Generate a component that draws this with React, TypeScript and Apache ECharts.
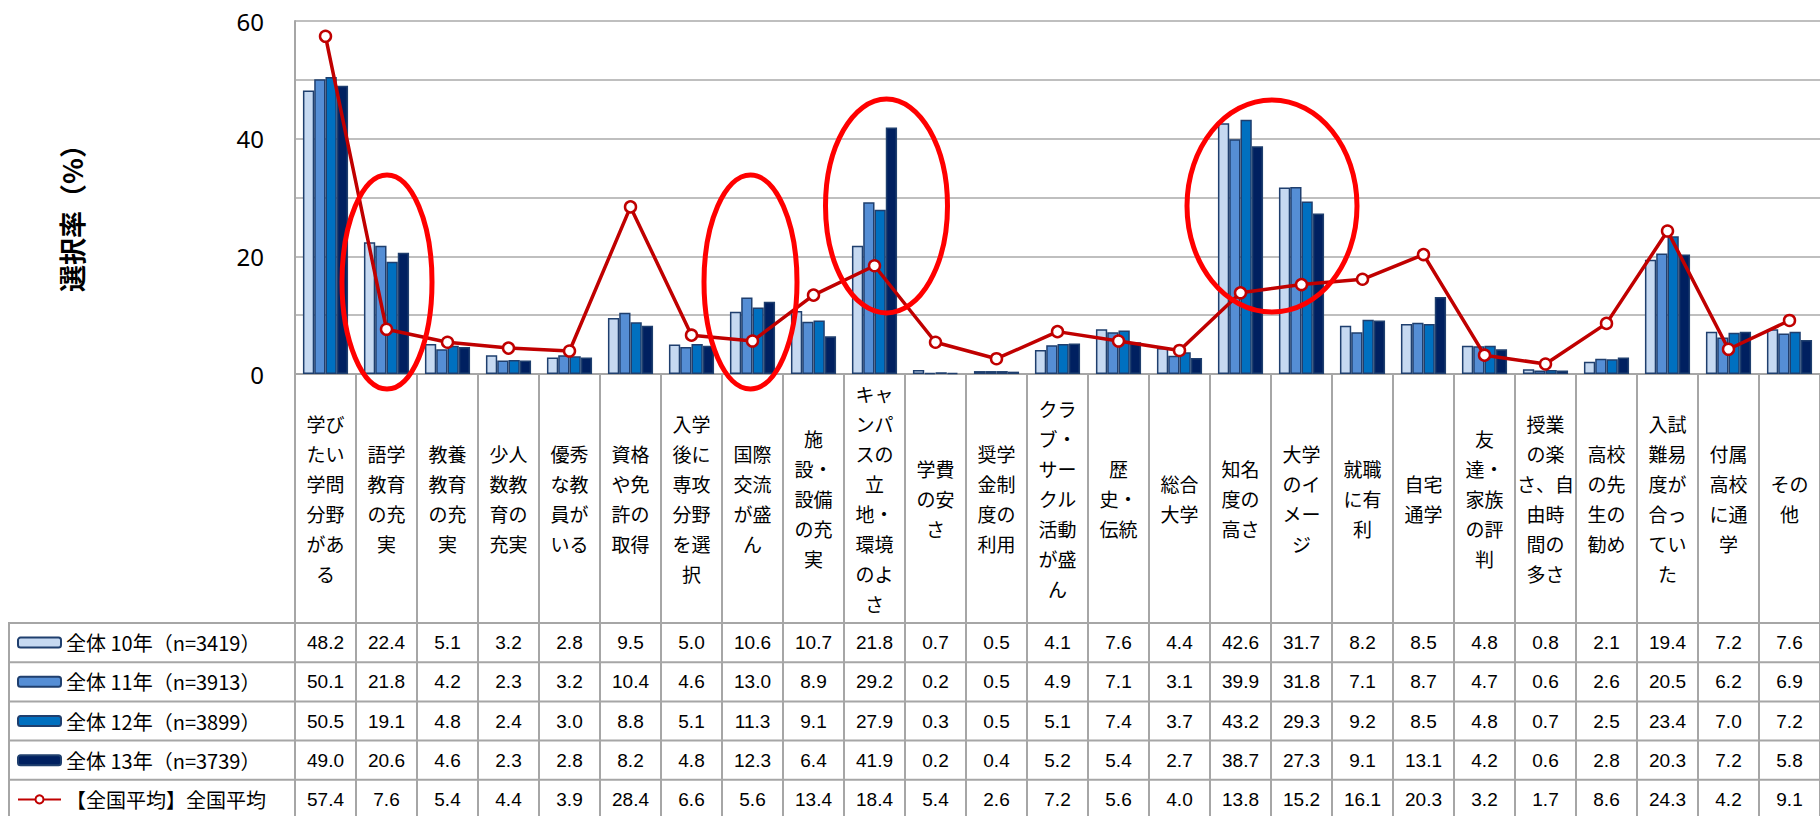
import React, { useEffect, useRef } from "react";
import * as echarts from "echarts";

const categories = [
  "学び\nたい\n学問\n分野\nがあ\nる",
  "語学\n教育\nの充\n実",
  "教養\n教育\nの充\n実",
  "少人\n数教\n育の\n充実",
  "優秀\nな教\n員が\nいる",
  "資格\nや免\n許の\n取得",
  "入学\n後に\n専攻\n分野\nを選\n択",
  "国際\n交流\nが盛\nん",
  "施\n設・\n設備\nの充\n実",
  "キャ\nンパ\nスの\n立\n地・\n環境\nのよ\nさ",
  "学費\nの安\nさ",
  "奨学\n金制\n度の\n利用",
  "クラ\nブ・\nサー\nクル\n活動\nが盛\nん",
  "歴\n史・\n伝統",
  "総合\n大学",
  "知名\n度の\n高さ",
  "大学\nのイ\nメー\nジ",
  "就職\nに有\n利",
  "自宅\n通学",
  "友\n達・\n家族\nの評\n判",
  "授業\nの楽\nさ、自\n由時\n間の\n多さ",
  "高校\nの先\n生の\n勧め",
  "入試\n難易\n度が\n合っ\nてい\nた",
  "付属\n高校\nに通\n学",
  "その\n他",
];

const seriesNames = [
  "全体 10年（n=3419）",
  "全体 11年（n=3913）",
  "全体 12年（n=3899）",
  "全体 13年（n=3739）",
  "【全国平均】全国平均",
];

const y10 = [48.2, 22.4, 5.1, 3.2, 2.8, 9.5, 5.0, 10.6, 10.7, 21.8, 0.7, 0.5, 4.1, 7.6, 4.4, 42.6, 31.7, 8.2, 8.5, 4.8, 0.8, 2.1, 19.4, 7.2, 7.6];
const y11 = [50.1, 21.8, 4.2, 2.3, 3.2, 10.4, 4.6, 13.0, 8.9, 29.2, 0.2, 0.5, 4.9, 7.1, 3.1, 39.9, 31.8, 7.1, 8.7, 4.7, 0.6, 2.6, 20.5, 6.2, 6.9];
const y12 = [50.5, 19.1, 4.8, 2.4, 3.0, 8.8, 5.1, 11.3, 9.1, 27.9, 0.3, 0.5, 5.1, 7.4, 3.7, 43.2, 29.3, 9.2, 8.5, 4.8, 0.7, 2.5, 23.4, 7.0, 7.2];
const y13 = [49.0, 20.6, 4.6, 2.3, 2.8, 8.2, 4.8, 12.3, 6.4, 41.9, 0.2, 0.4, 5.2, 5.4, 2.7, 38.7, 27.3, 9.1, 13.1, 4.2, 0.6, 2.8, 20.3, 7.2, 5.8];
const avg = [57.4, 7.6, 5.4, 4.4, 3.9, 28.4, 6.6, 5.6, 13.4, 18.4, 5.4, 2.6, 7.2, 5.6, 4.0, 13.8, 15.2, 16.1, 20.3, 3.2, 1.7, 8.6, 24.3, 4.2, 9.1];

const yTicks = [0, 20, 40, 60];

const barColors = ["#C6D9F1", "#558ED5", "#0070C0", "#002060"];

export default function App() {
  const ref = useRef<HTMLDivElement>(null);

  useEffect(() => {
    document.body.style.margin = "0";
    if (!ref.current) return;
    const chart = echarts.init(ref.current, null, { renderer: "svg" });

    const W = 1820;
    const H = 816;
    const gridLeft = 295;
    const gridTop = 21;
    const axisY = 374;
    const tableTop = 623;
    const rowH = 39.2;
    const gridColor = "#A6A6A6";
    const tableFont = "'Liberation Sans Narrow', 'Arial Narrow', 'Liberation Sans', sans-serif";
    const cjkFont = "'Noto Sans CJK JP', sans-serif";

    const rows = [y10, y11, y12, y13, avg];

    const valueAxes = rows.map((r, i) => ({
      type: "category",
      gridIndex: 0,
      position: "bottom",
      data: r.map((v) => v.toFixed(1)),
      offset: tableTop + (i + 0.5) * rowH - axisY,
      axisLine: { show: false },
      axisTick: { show: false },
      splitLine: { show: false },
      axisLabel: {
        interval: 0,
        margin: 0,
        verticalAlign: "middle",
        fontSize: 19,
        color: "#000",
        fontFamily: tableFont,
      },
    }));

    const graphics: any[] = [];
    for (let i = 0; i < 5; i++) {
      const y = tableTop + i * rowH;
      graphics.push({
        type: "line",
        shape: { x1: 8, y1: y, x2: W, y2: y },
        style: { stroke: gridColor, lineWidth: 2 },
        z: 5,
      });
    }
    graphics.push({
      type: "line",
      shape: { x1: 9, y1: tableTop, x2: 9, y2: H },
      style: { stroke: gridColor, lineWidth: 2 },
      z: 5,
    });
    const ellipses = [
      [387, 282, 45, 107],
      [750.5, 282, 46.5, 107],
      [886.5, 206, 61, 107],
      [1272, 206, 85, 106],
    ];
    ellipses.forEach(([cx, cy, rx, ry]) =>
      graphics.push({
        type: "ellipse",
        shape: { cx, cy, rx, ry },
        style: { fill: "none", stroke: "#FF0000", lineWidth: 5 },
        z: 100,
      })
    );

    const option: any = {
      animation: false,
      backgroundColor: "#fff",
      grid: { left: gridLeft, top: gridTop, width: 1530, height: axisY - gridTop, containLabel: false },
      legend: {
        orient: "vertical",
        left: 17,
        top: tableTop + rowH / 2 - 11,
        padding: 0,
        height: 200,
        itemWidth: 43,
        itemHeight: 10,
        itemGap: rowH - 22,
        selectedMode: false,
        data: seriesNames,
        itemStyle: { borderWidth: 2 },
        textStyle: { fontSize: 20, lineHeight: 22, color: "#000", fontFamily: cjkFont },
      },
      xAxis: [
        {
          type: "category",
          data: categories,
          boundaryGap: true,
          axisLine: { show: true, lineStyle: { color: gridColor, width: 2 } },
          axisTick: {
            show: true,
            interval: 0,
            length: H - axisY,
            lineStyle: { color: gridColor, width: 2 },
          },
          axisLabel: {
            interval: 0,
            margin: (tableTop - axisY) / 2,
            verticalAlign: "middle",
            fontSize: 19,
            lineHeight: 30,
            color: "#000",
            fontFamily: cjkFont,
          },
        },
        ...valueAxes,
      ],
      yAxis: {
        type: "value",
        min: 0,
        max: 60,
        interval: 10,
        name: "選択率（%）",
        nameLocation: "middle",
        nameGap: 210,
        nameRotate: 90,
        nameTextStyle: {
          fontSize: 27,
          fontWeight: "bold",
          color: "#000",
          fontFamily: cjkFont,
          padding: [0, 28, 0, 0],
        },
        axisLine: { show: true, lineStyle: { color: gridColor, width: 2 } },
        axisTick: { show: false },
        splitLine: { show: true, lineStyle: { color: "#BFBFBF", width: 2 } },
        axisLabel: {
          margin: 31,
          fontSize: 24,
          color: "#000",
          fontFamily: "'Noto Sans', sans-serif",
          formatter: (v: number) => (yTicks.includes(v) ? String(v) : ""),
        },
      },
      series: [
        ...[y10, y11, y12, y13].map((d, i) => ({
          name: seriesNames[i],
          type: "bar",
          data: d,
          barGap: "0%",
          barCategoryGap: "26%",
          itemStyle: { color: barColors[i], borderColor: "#1F3F6E", borderWidth: 1.5 },
          z: 2,
        })),
        {
          name: seriesNames[4],
          type: "line",
          data: avg,
          symbol: "circle",
          symbolSize: 11,
          lineStyle: { color: "#C00000", width: 3.5 },
          itemStyle: { color: "#FFFFFF", borderColor: "#C00000", borderWidth: 2.5 },
          z: 10,
        },
      ],
      graphic: graphics,
    };

    chart.setOption(option);
    return () => chart.dispose();
  }, []);

  return <div ref={ref} style={{ width: 1820, height: 816 }} />;
}
